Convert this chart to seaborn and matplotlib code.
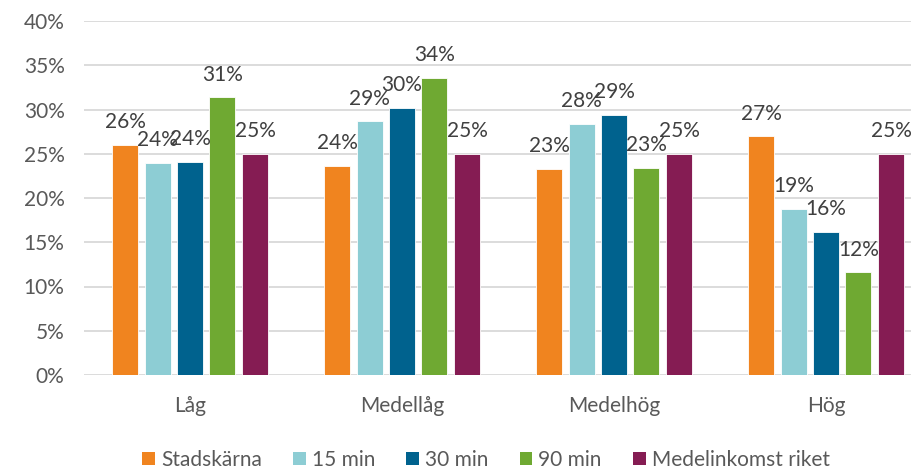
import numpy as np
import pandas as pd
import seaborn as sns
import matplotlib.pyplot as plt
from matplotlib.patches import Patch

# Andel per inkomstgrupp och avstånd till stadskärnan
categories = ["Låg", "Medellåg", "Medelhög", "Hög"]
series = ["Stadskärna", "15 min", "30 min", "90 min", "Medelinkomst riket"]
stadskarna = [0.260, 0.2365, 0.233, 0.270]
min15 = [0.240, 0.287, 0.284, 0.188]
min30 = [0.241, 0.302, 0.294, 0.162]
min90 = [0.314, 0.336, 0.234, 0.116]
riket = [0.25, 0.25, 0.25, 0.25]
yticks = [0, 0.05, 0.10, 0.15, 0.20, 0.25, 0.30, 0.35, 0.40]

colors = ["#F0841F", "#8DCDD4", "#00628E", "#6FA932", "#851C53"]

df = pd.DataFrame({
    "grupp": categories * len(series),
    "serie": np.repeat(series, len(categories)),
    "andel": stadskarna + min15 + min30 + min90 + riket,
})

sns.set_theme(style="white")
plt.rcParams["font.family"] = ["Lato", "DejaVu Sans"]

fig = plt.figure(figsize=(9.11, 4.70), dpi=100)
ax = fig.add_axes([84 / 911, 95 / 470, 848 / 911, 354 / 470])

sns.barplot(data=df, x="grupp", y="andel", hue="serie", order=categories,
            hue_order=series, palette=colors, saturation=1, width=0.766,
            gap=0.2, edgecolor="white", linewidth=0.6, legend=False, ax=ax)

ax.set_ylim(0, 0.40)
ax.set_yticks(yticks)
ax.set_yticklabels([f"{t:.0%}" for t in yticks])
ax.set_xlabel("")
ax.set_ylabel("")
ax.yaxis.grid(True, color="#d9d9d9", linewidth=1.3)
ax.set_axisbelow(True)
for s in ax.spines.values():
    s.set_visible(False)
ax.tick_params(axis="both", length=0, colors="#595959", labelsize=15)
ax.tick_params(axis="x", pad=15)
ax.tick_params(axis="y", pad=14)

for cont in ax.containers:
    vals = cont.datavalues
    ax.bar_label(cont, labels=[f"{v:.0%}" for v in vals], padding=9,
                 fontsize=15, color="#404040")

handles = [Patch(facecolor=c, edgecolor="none") for c in colors]
fig.legend(handles, series, loc="center", bbox_to_anchor=(486 / 911, 10 / 470),
           ncol=5, frameon=False, fontsize=15, handlelength=0.6,
           handleheight=0.6, handletextpad=0.3, columnspacing=1.5,
           labelcolor="#595959")

fig.savefig("out.png", dpi=100)
